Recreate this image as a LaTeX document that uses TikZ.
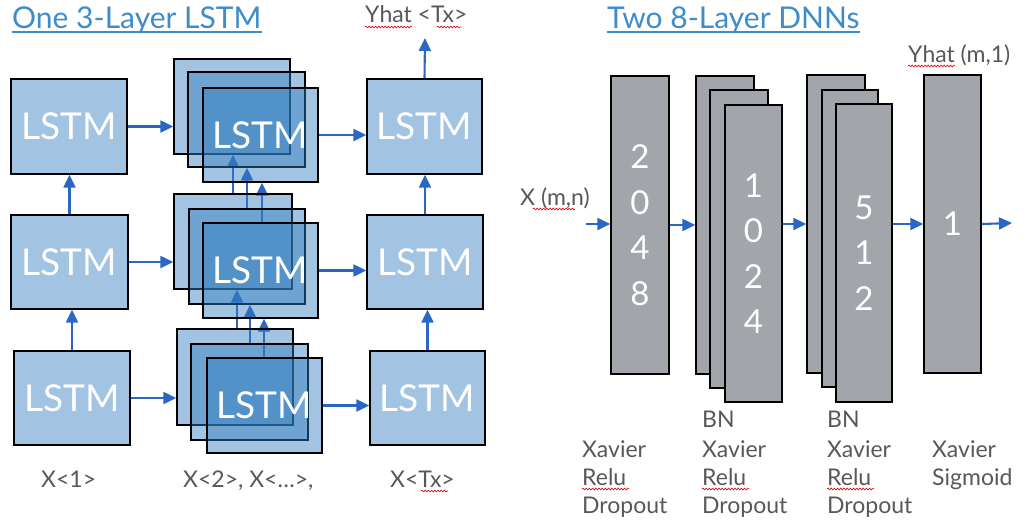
\documentclass[tikz,border=0pt]{standalone}
\usepackage{fontspec}
\setmainfont{Lato}
\usetikzlibrary{arrows.meta,decorations.pathmorphing,calc}
\pgfdeclarelayer{bg}
\pgfsetlayers{bg,main}
\definecolor{lstmblue}{RGB}{49,125,190}
\definecolor{arrowblue}{RGB}{42,102,196}
\definecolor{titleblue}{RGB}{62,140,202}
\definecolor{labelgray}{RGB}{88,88,90}
\definecolor{layergray}{RGB}{162,166,170}
\tikzset{
 lstmbox/.style={draw=black, line width=1.3pt, fill=lstmblue, fill opacity=0.45, text opacity=1, text=white, font=\fontsize{37}{37}\selectfont, inner sep=0},
 dnnbox/.style={draw=black, line width=1.3pt, fill=layergray, text=white, inner sep=0, align=center, font=\fontsize{33}{45.5}\selectfont},
 arr/.style={draw=arrowblue, line width=2.1pt, -{Triangle[length=13pt,width=12pt]}},
 lbl/.style={text=labelgray, font=\fontsize{23}{28}\selectfont, inner sep=0, anchor=base west},
 ttl/.style={text=titleblue, font=\fontsize{30}{30}\selectfont, inner sep=0, anchor=base west},
 squig/.style={draw=red!85!black, line width=0.6pt, decorate, decoration={snake, amplitude=0.9pt, segment length=3.2pt}}
}
\newcommand\mybox[7]{\node[#6, minimum width={#4-#2}, minimum height={#5-#3}] (#1) at ({(#2+#4)/2},{(#3+#5)/2}) {#7};}
\begin{document}
\begin{tikzpicture}[x=1pt,y=-1pt]
\useasboundingbox (0,0) rectangle (1027,523);
% titles
\node[ttl] (t1) at (12,28) {One 3-Layer LSTM};
\draw[titleblue, line width=1.2pt] ([yshift=-4pt]t1.base west) -- ([yshift=-4pt]t1.base east);
\node[ttl] (t2) at (607,28) {Two 8-Layer DNNs};
\draw[titleblue, line width=1.2pt] ([yshift=-4pt]t2.base west) -- ([yshift=-4pt]t2.base east);
% LSTM boxes
\mybox{c1r1}{11}{79}{127}{174}{lstmbox}{LSTM}
\mybox{c1r2}{11}{215}{128}{309}{lstmbox}{LSTM}
\mybox{c1r3}{14}{351}{130}{445}{lstmbox}{LSTM}
\mybox{r1a}{174}{59}{290}{154}{lstmbox}{}
\mybox{r1b}{188}{72}{305}{167}{lstmbox}{}
\mybox{r1c}{203}{88}{318}{182}{lstmbox}{LSTM}
\mybox{r2a}{174}{194}{292}{289}{lstmbox}{}
\mybox{r2b}{189}{209}{305}{304}{lstmbox}{}
\mybox{r2c}{203}{223}{318}{318}{lstmbox}{LSTM}
\mybox{r3a}{177}{329}{293}{425}{lstmbox}{}
\mybox{r3b}{191}{344}{308}{440}{lstmbox}{}
\mybox{r3c}{207}{358}{322}{453}{lstmbox}{LSTM}
\mybox{c3r1}{367}{79}{482}{174}{lstmbox}{LSTM}
\mybox{c3r2}{367}{215}{483}{309}{lstmbox}{LSTM}
\mybox{c3r3}{370}{351}{485}{445}{lstmbox}{LSTM}
% DNN boxes
\mybox{b1}{611}{76}{669}{374}{dnnbox}{2\\0\\4\\8}
\mybox{b2a}{696}{76}{754}{374}{dnnbox}{}
\mybox{b2b}{710}{90}{768}{388}{dnnbox}{}
\mybox{b2c}{725}{105}{782}{402}{dnnbox}{1\\0\\2\\4}
\mybox{b3a}{807}{75}{865}{373}{dnnbox}{}
\mybox{b3b}{822}{90}{878}{387}{dnnbox}{}
\mybox{b3c}{836}{104}{892}{402}{dnnbox}{5\\1\\2}
\mybox{b4}{924}{75}{981}{373}{dnnbox}{1}
% labels
\node[lbl] (yl) at (365,22) {Yhat <Tx>};
\node[lbl] (yr) at (908,62) {Yhat (m,1)};
\node[lbl] (xin) at (520,205) {X (m,n)};
\node[lbl] (x1) at (41,487) {X<1>};
\node[lbl] (x2) at (183,487) {X<2>, X<…>,};
\node[lbl] (xt) at (390,487) {X<Tx>};
\node[lbl] (l1a) at (582,457) {Xavier};
\node[lbl] (l1b) at (582,485) {Relu};
\node[lbl] (l1c) at (582,513) {Dropout};
\node[lbl] (l2n) at (702,427) {BN};
\node[lbl] (l2a) at (702,457) {Xavier};
\node[lbl] (l2b) at (702,485) {Relu};
\node[lbl] (l2c) at (702,513) {Dropout};
\node[lbl] (l3n) at (827,427) {BN};
\node[lbl] (l3a) at (827,457) {Xavier};
\node[lbl] (l3b) at (827,485) {Relu};
\node[lbl] (l3c) at (827,513) {Dropout};
\node[lbl] (l4a) at (932,457) {Xavier};
\node[lbl] (l4b) at (932,485) {Sigmoid};
% spell-check squiggles
\draw[squig] (365,27) -- (412,27);
\draw[squig] (437,27) -- (461,27);
\draw[squig] (421,491) -- (448,491);
\draw[squig] (533,209) -- (575,209);
\draw[squig] (908,66) -- (955,66);
\draw[squig] (582,489) -- (629,489);
\draw[squig] (702,489) -- (749,489);
\draw[squig] (827,489) -- (874,489);
% coordinates
\coordinate (yout) at (425,38);
\coordinate (xs) at (586,224);
\coordinate (xe) at (1012,223);
\coordinate (v1) at (233,0);
\coordinate (v2) at (247,0);
\coordinate (v3) at (262,0);
\coordinate (w1) at (237,0);
\coordinate (w2) at (250,0);
\coordinate (w3) at (264,0);
\begin{pgfonlayer}{bg}
% horizontal LSTM arrows
\draw[arr] (c1r1.east) -- (r1a.west |- c1r1.east);
\draw[arr] (c1r2.east) -- (r2a.west |- c1r2.east);
\draw[arr] (c1r3.east) -- (r3a.west |- c1r3.east);
\draw[arr] (r1c.east) -- (c3r1.west |- r1c.east);
\draw[arr] (r2c.east) -- (c3r2.west |- r2c.east);
\draw[arr] (r3c.east) -- (c3r3.west |- r3c.east);
% vertical LSTM arrows
\draw[arr] (c1r2.north) -- (c1r2.north |- c1r1.south);
\draw[arr] (c1r3.north) -- (c1r3.north |- c1r2.south);
\draw[arr] (c3r2.north) -- (c3r2.north |- c3r1.south);
\draw[arr] (c3r3.north) -- (c3r3.north |- c3r2.south);
\draw[arr] (c3r1.north) -- (yout);
\draw[arr] (v1 |- r2a.north) -- (v1 |- r1a.south);
\draw[arr] (v2 |- r2b.north) -- (v2 |- r1b.south);
\draw[arr] (v3 |- r2c.north) -- (v3 |- r1c.south);
\draw[arr] (w1 |- r3a.north) -- (w1 |- r2a.south);
\draw[arr] (w2 |- r3b.north) -- (w2 |- r2b.south);
\draw[arr] (w3 |- r3c.north) -- (w3 |- r2c.south);
% DNN arrows
\draw[arr] (xs) -- (b1.west |- xs);
\draw[arr] (b1.east) -- (b2a.west |- b1.east);
\draw[arr] (b2c.east |- b3a.west) -- (b3a.west);
\draw[arr] (b3c.east |- b4.west) -- (b4.west);
\draw[arr] (b4.east) -- (xe);
\end{pgfonlayer}
\end{tikzpicture}
\end{document}
